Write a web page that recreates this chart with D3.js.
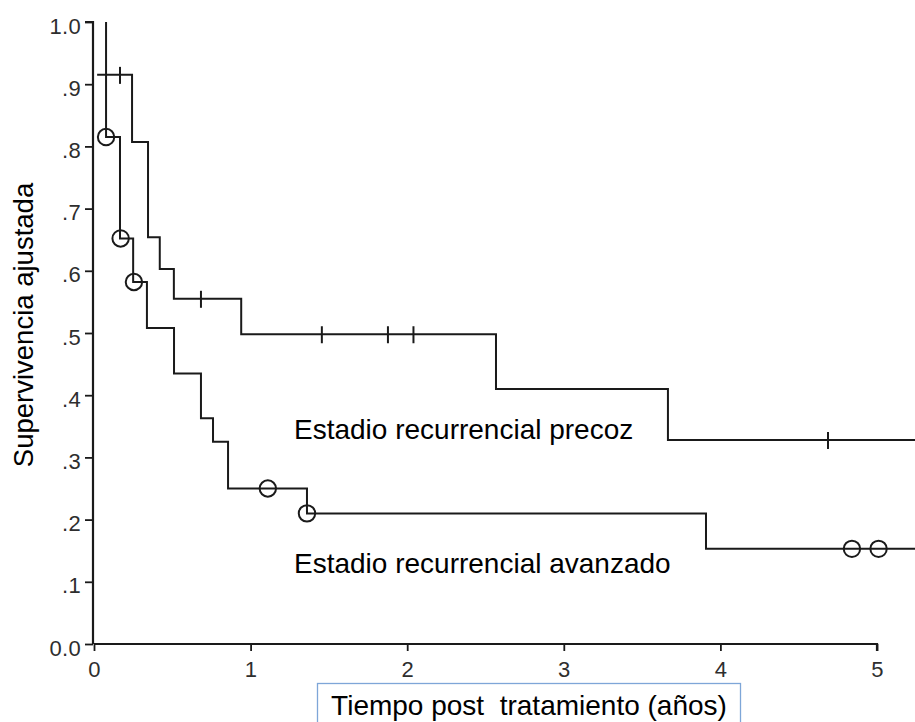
<!DOCTYPE html>
<html>
<head>
<meta charset="utf-8">
<script src="https://d3js.org/d3.v7.min.js"></script>
<style>
  body { margin: 0; background: #fff; }
  svg { display: block; }
  text { font-family: Arial, "Liberation Sans", sans-serif; }
</style>
</head>
<body>
<script>
// data: step points [time (years), survival after that time]
const precozSteps = [
  [0.02, 0.915], [0.243, 0.807], [0.345, 0.654],
  [0.42, 0.603], [0.51, 0.555], [0.94, 0.498], [2.567, 0.410],
  [3.665, 0.328], [5.25, 0.328]
];
const avanzadoSteps = [
  [0.077, 1.000], [0.077, 0.815], [0.166, 0.652], [0.25, 0.582],
  [0.338, 0.508], [0.511, 0.435], [0.683, 0.363], [0.76, 0.325],
  [0.856, 0.250], [1.36, 0.210], [3.908, 0.153], [5.25, 0.153]
];
// censored times
const precozCensors = [0.166, 0.683, 1.455, 1.877, 2.04, 4.687];
const avanzadoCensors = [0.077, 0.17, 0.255, 1.11, 1.36, 4.84, 5.01];

const yTicks = [0, 0.1, 0.2, 0.3, 0.4, 0.5, 0.6, 0.7, 0.8, 0.9, 1.0];
const yTickLabels = ["0.0", ".1", ".2", ".3", ".4", ".5", ".6", ".7", ".8", ".9", "1.0"];
const xTicks = [0, 1, 2, 3, 4, 5];

const W = 915, H = 722;
const svg = d3.select("body").append("svg").attr("width", W).attr("height", H);

const x = d3.scaleLinear().domain([0, 5]).range([94, 877]);
const y = d3.scaleLinear().domain([0, 1]).range([644, 22]);

// survival value at time t
function survAt(steps, t) {
  let v = steps[0][1];
  steps.forEach(s => { if (s[0] <= t + 1e-9) v = s[1]; });
  return v;
}

// axes
const yAxis = svg.append("g")
  .attr("transform", `translate(${x(0) - 1},0)`)
  .call(d3.axisLeft(y).tickValues(yTicks).tickSize(8).tickPadding(5)
    .tickFormat((d, i) => yTickLabels[i]));
const xAxis = svg.append("g")
  .attr("transform", `translate(0,${y(0)})`)
  .call(d3.axisBottom(x).tickValues(xTicks).tickSize(7).tickPadding(10)
    .tickFormat(d3.format("d")));

[yAxis, xAxis].forEach(g => {
  g.attr("font-size", null).attr("font-family", null);
  g.select(".domain").attr("stroke", "#1a1a1a").attr("stroke-width", 2.2);
  g.selectAll(".tick line").attr("stroke", "#1a1a1a").attr("stroke-width", 1.8);
  g.selectAll(".tick text")
    .attr("fill", "#2e2e2e")
    .style("font-size", "22px")
    .style("letter-spacing", "0.3px")
    .style("font-family", "Arial, 'Liberation Sans', sans-serif");
});
yAxis.select(".domain").attr("d", `M-8,${y(1)}H0V${y(0)}`);
yAxis.selectAll(".tick text").attr("dy", "0.5em").attr("x", -12);
xAxis.select(".domain").attr("d", `M${x(0)},0H${x(5)}V7`);

// step curves
const line = d3.line()
  .x(d => x(d[0]))
  .y(d => y(d[1]))
  .curve(d3.curveStepAfter);

[precozSteps, avanzadoSteps].forEach(steps => {
  svg.append("path")
    .datum(steps)
    .attr("fill", "none")
    .attr("stroke", "#1a1a1a")
    .attr("stroke-width", 2)
    .attr("d", line);
});

// censor ticks for precoz
svg.selectAll(".cens-p")
  .data(precozCensors)
  .join("line")
  .attr("x1", d => x(d)).attr("x2", d => x(d))
  .attr("y1", d => y(survAt(precozSteps, d)) - 8)
  .attr("y2", d => y(survAt(precozSteps, d)) + 9)
  .attr("stroke", "#1a1a1a")
  .attr("stroke-width", 2);

// censor circles for avanzado
svg.selectAll(".cens-a")
  .data(avanzadoCensors)
  .join("circle")
  .attr("cx", d => x(d))
  .attr("cy", d => y(survAt(avanzadoSteps, d)))
  .attr("r", 8.2)
  .attr("fill", "none")
  .attr("stroke", "#1a1a1a")
  .attr("stroke-width", 2);

// curve labels
svg.append("text")
  .attr("x", 294).attr("y", 439)
  .attr("font-size", 28).attr("fill", "#000")
  .text("Estadio recurrencial precoz");
svg.append("text")
  .attr("x", 294).attr("y", 573)
  .attr("font-size", 28).attr("fill", "#000")
  .text("Estadio recurrencial avanzado");

// y axis title
svg.append("text")
  .attr("transform", "translate(33,325) rotate(-90)")
  .attr("text-anchor", "middle")
  .attr("font-size", 27.5).attr("fill", "#000")
  .text("Supervivencia ajustada");

// x axis title in a box
svg.append("rect")
  .attr("x", 317.5).attr("y", 683.5)
  .attr("width", 423).attr("height", 50)
  .attr("fill", "#fff")
  .attr("stroke", "#7ea6d8")
  .attr("stroke-width", 1.3);
svg.append("text")
  .attr("x", 529).attr("y", 715)
  .attr("text-anchor", "middle")
  .attr("font-size", 28).attr("fill", "#000")
  .style("white-space", "pre")
  .text("Tiempo post  tratamiento (años)");
</script>
</body>
</html>
